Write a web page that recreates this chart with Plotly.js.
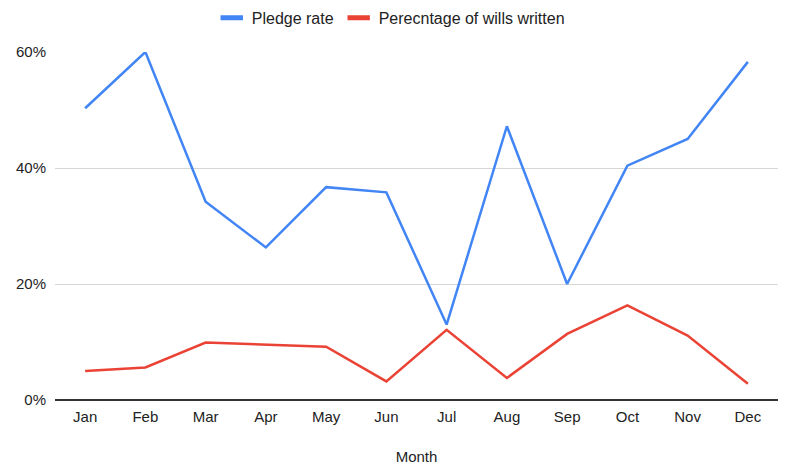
<!DOCTYPE html>
<html>
<head>
<meta charset="utf-8">
<script src="https://cdn.plot.ly/plotly-3.0.1.min.js"></script>
<style>
  html, body { margin: 0; padding: 0; background: #fff; }
  #chart { width: 791px; height: 465px; }
</style>
</head>
<body>
<div id="chart"></div>
<script>
// Monthly pledge rate and share of wills written
const months = ["Jan", "Feb", "Mar", "Apr", "May", "Jun", "Jul", "Aug", "Sep", "Oct", "Nov", "Dec"];
const pledgeRate = [0.503, 0.600, 0.342, 0.263, 0.367, 0.358, 0.130, 0.472, 0.200, 0.404, 0.450, 0.583];
const willsWritten = [0.050, 0.056, 0.099, 0.095, 0.092, 0.032, 0.121, 0.038, 0.114, 0.163, 0.111, 0.028];
const yTicks = [0, 0.2, 0.4, 0.6];

const series = [
  { name: "Pledge rate", values: pledgeRate, color: "#4285F4" },
  { name: "Perecntage of wills written", values: willsWritten, color: "#EA4335" }
];

const traces = [];
// Data lines (legend entries are drawn separately as short thick bars)
series.forEach(s => {
  traces.push({
    x: months, y: s.values, name: s.name, legendgroup: s.name,
    type: "scatter", mode: "lines", showlegend: false,
    line: { color: s.color, width: 2.5 }
  });
});
// Legend-only entries with a bar-shaped swatch
series.forEach(s => {
  traces.push({
    x: [null], y: [null], name: s.name, legendgroup: s.name,
    type: "scatter", mode: "markers", showlegend: true,
    marker: { symbol: "line-ew", size: 16, color: s.color,
              line: { color: s.color, width: 5 } }
  });
});

const layout = {
  width: 791, height: 465,
  margin: { l: 55, r: 13, t: 52, b: 65 },
  paper_bgcolor: "#fff", plot_bgcolor: "#fff",
  font: { family: "Liberation Sans, Arial, sans-serif", size: 15, color: "#222" },
  showlegend: true,
  legend: {
    orientation: "h", xref: "container", yref: "container",
    x: 0.494, xanchor: "center", y: 0.998, yanchor: "top",
    font: { size: 16, color: "#222" }, itemwidth: 30
  },
  xaxis: {
    type: "category", range: [-0.5, 11.5],
    showgrid: false, zeroline: false,
    showline: false, ticks: "", ticklen: 0, ticklabelstandoff: 6,
    tickfont: { size: 15, color: "#222" },
    title: { text: "Month", font: { size: 15, color: "#222" }, standoff: 30 }
  },
  yaxis: {
    range: [0, 0.6], tickvals: yTicks, tickformat: ".0%",
    showgrid: true, gridcolor: "#d6d6d6", gridwidth: 1,
    zeroline: true, zerolinecolor: "#333", zerolinewidth: 1.5,
    showline: false, ticks: "", ticklabelstandoff: 8,
    tickfont: { size: 15, color: "#222" }
  }
};

Plotly.newPlot("chart", traces, layout, { displayModeBar: false, staticPlot: true });
</script>
</body>
</html>
